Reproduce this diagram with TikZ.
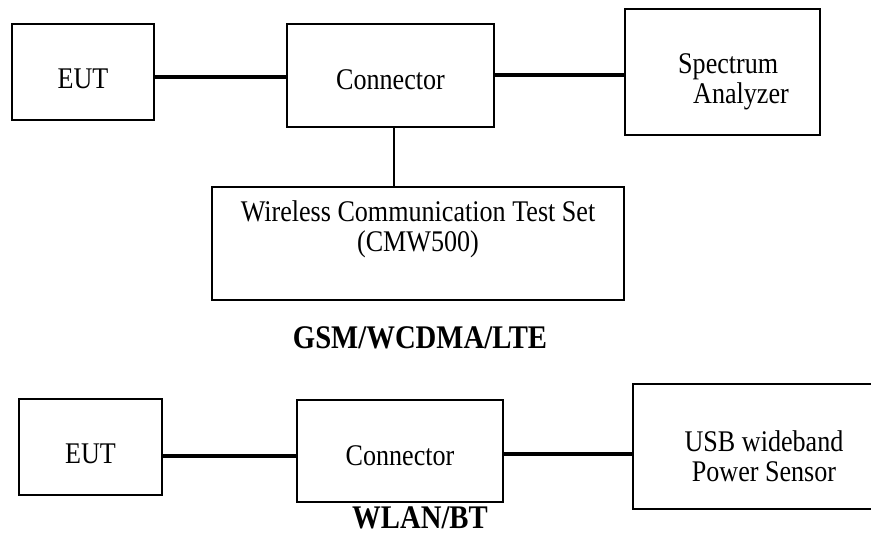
\documentclass[tikz,border=0pt]{standalone}
\usepackage{fontspec}
\setmainfont{Liberation Serif}[FakeStretch=0.87]
\usetikzlibrary{calc}
\begin{document}
\begin{tikzpicture}[x=1pt,y=-1pt,
  box/.style={draw=black,line width=1.6pt,rectangle,inner sep=0pt},
  txt/.style={font=\fontsize{30}{30}\selectfont,align=center,inner sep=0pt},
  lbl/.style={font=\fontsize{33}{33}\selectfont\bfseries,inner sep=0pt},
  wire/.style={line width=3.2pt},
  vwire/.style={line width=2.2pt}]
\useasboundingbox (0,0) rectangle (871,537);
\clip (0,0) rectangle (871,537);
% top diagram
\node[box,minimum width=142pt,minimum height=96pt] (eut1) at (83,72) {};
\node[txt] (eut1t) at (83,79) {EUT};
\node[box,minimum width=207pt,minimum height=103pt] (con1) at (390.5,75.5) {};
\node[txt] (con1t) at (390.5,80) {Connector};
\node[box,minimum width=195pt,minimum height=126pt] (sa) at (722.5,72) {};
\node[txt,align=left,anchor=west] (sat) at (678,82) {Spectrum\\\hspace*{15pt}Analyzer};
\node[box,minimum width=412pt,minimum height=113pt] (wct) at (418,243.5) {};
\node[txt] (wctt) at (418,229.5) {Wireless Communication Test Set\\(CMW500)};
\node[lbl] (gsm) at (420,338) {GSM/WCDMA/LTE};
\draw[wire] (eut1.east |- 0,77) -- (con1.west |- 0,77);
\draw[wire] (con1.east |- 0,75) -- (sa.west |- 0,75);
\draw[vwire] (con1.south -| 394,0) -- (wct.north -| 394,0);
% bottom diagram
\node[box,minimum width=143pt,minimum height=96pt] (eut2) at (90.5,447) {};
\node[txt] (eut2t) at (90.5,454) {EUT};
\node[box,minimum width=206pt,minimum height=102pt] (con2) at (400,451) {};
\node[txt] (con2t) at (400,456) {Connector};
\node[box,minimum width=262pt,minimum height=125pt] (usb) at (764,446.5) {};
\node[txt] (usbt) at (764,456) {USB wideband\\Power Sensor};
\node[lbl] (wlan) at (420,518) {WLAN/BT};
\draw[wire] (eut2.east |- 0,456) -- (con2.west |- 0,456);
\draw[wire] (con2.east |- 0,454) -- (usb.west |- 0,454);
\end{tikzpicture}
\end{document}
